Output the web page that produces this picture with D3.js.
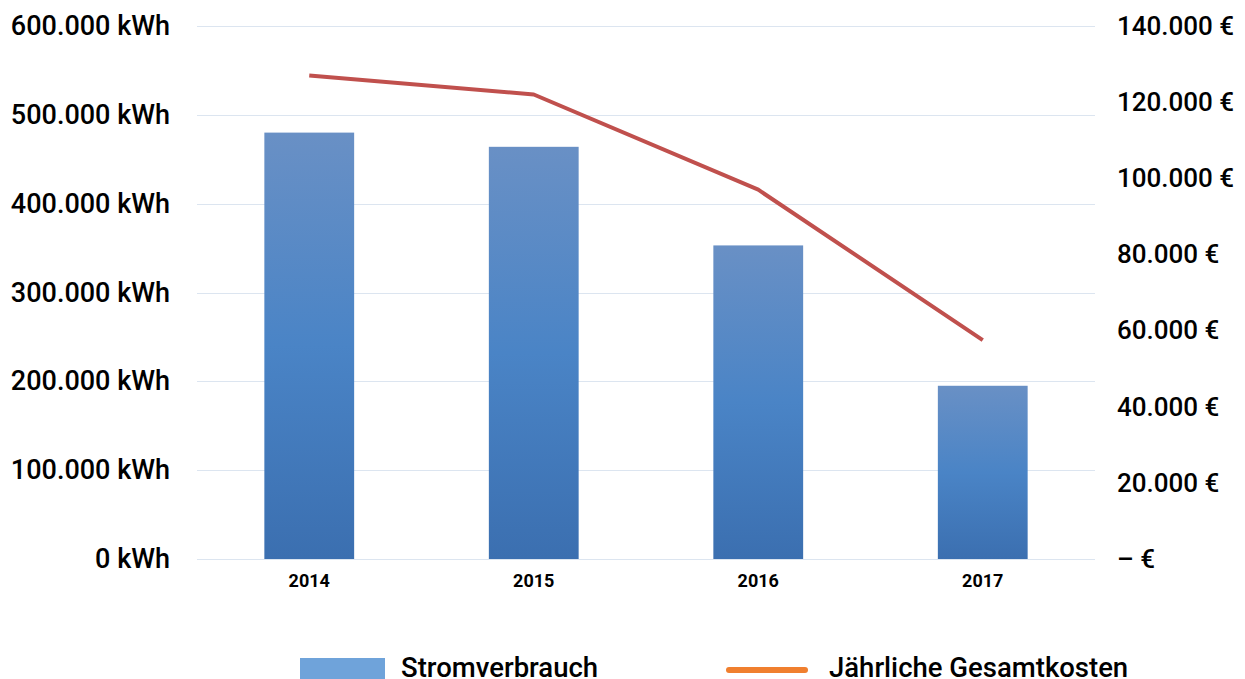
<!DOCTYPE html>
<html lang="de">
<head>
    <meta charset="UTF-8">
    <title>Stromverbrauch</title>
    <script src="https://cdnjs.cloudflare.com/ajax/libs/d3/7.8.5/d3.min.js"></script>
    <style>
        body { margin: 0; background: #fff; }
        svg { display: block; font-family: Roboto, sans-serif; }
    </style>
</head>
<body>
    <div id="wrapper"></div>
    <script>
        // Daten
        const years = ['2014', '2015', '2016', '2017']
        const consumption = [480000, 464000, 353000, 195000]   // kWh
        const totalCost = [127000, 122000, 97000, 57500]        // €
        const leftTicks = [0, 100000, 200000, 300000, 400000, 500000, 600000]
        const rightTicks = [0, 20000, 40000, 60000, 80000, 100000, 120000, 140000]

        const width = 1245
        const height = 679
        const margin = { top: 26, right: 150, bottom: 120, left: 197 }
        const boundedWidth = width - margin.left - margin.right
        const boundedHeight = height - margin.top - margin.bottom

        const svg = d3.select('#wrapper').append('svg')
            .attr('width', width)
            .attr('height', height)

        const defs = svg.append('defs')
        const grad = defs.append('linearGradient')
            .attr('id', 'barGrad')
            .attr('x1', 0).attr('y1', 0).attr('x2', 0).attr('y2', 1)
        grad.append('stop').attr('offset', '0%').attr('stop-color', '#6990C5')
        grad.append('stop').attr('offset', '50%').attr('stop-color', '#4A84C6')
        grad.append('stop').attr('offset', '100%').attr('stop-color', '#3B6FB0')

        const bounds = svg.append('g')
            .attr('transform', `translate(${margin.left},${margin.top})`)

        const xScale = d3.scaleBand()
            .domain(years)
            .range([0, boundedWidth])
            .paddingInner(0.6)
            .paddingOuter(0.3)

        const yLeft = d3.scaleLinear().domain([0, 600000]).range([boundedHeight, 0])
        const yRight = d3.scaleLinear().domain([0, 140000]).range([boundedHeight, 0])

        const fmt = d3.formatLocale({ decimal: ',', thousands: '.', grouping: [3], currency: ['', ' €'] }).format(',.0f')

        // Gitternetz
        bounds.append('g')
            .selectAll('line')
            .data(leftTicks)
            .enter().append('line')
                .attr('x1', 0)
                .attr('x2', boundedWidth)
                .attr('y1', d => Math.round(yLeft(d)) + 0.5)
                .attr('y2', d => Math.round(yLeft(d)) + 0.5)
                .attr('stroke', '#DCE5F0')
                .attr('stroke-width', 1)

        // Balken
        bounds.append('g')
            .selectAll('rect')
            .data(consumption)
            .enter().append('rect')
                .attr('x', (d, i) => xScale(years[i]))
                .attr('y', d => yLeft(d))
                .attr('width', xScale.bandwidth())
                .attr('height', d => boundedHeight - yLeft(d))
                .attr('fill', 'url(#barGrad)')

        // Linie
        const lineGen = d3.line()
            .x((d, i) => xScale(years[i]) + xScale.bandwidth() / 2)
            .y(d => yRight(d))
        bounds.append('path')
            .datum(totalCost)
            .attr('d', lineGen)
            .attr('fill', 'none')
            .attr('stroke', '#C0504D')
            .attr('stroke-width', 4)
            .attr('stroke-linejoin', 'round')

        // Achsen
        const leftAxis = d3.axisLeft(yLeft)
            .tickValues(leftTicks)
            .tickSize(0)
            .tickPadding(27)
            .tickFormat(d => fmt(d) + ' kWh')
        bounds.append('g').call(leftAxis)
            .call(g => g.select('.domain').remove())
            .selectAll('text')
                .style('font-size', '27px')
                .style('font-weight', 500)
                .style('font-family', 'Roboto, sans-serif')
                .attr('fill', '#000')

        const rightAxis = d3.axisRight(yRight)
            .tickValues(rightTicks)
            .tickSize(0)
            .tickPadding(22)
            .tickFormat(d => d === 0 ? '\u2013 €' : fmt(d) + ' €')
        bounds.append('g')
            .attr('transform', `translate(${boundedWidth},0)`)
            .call(rightAxis)
            .call(g => g.select('.domain').remove())
            .selectAll('text')
                .style('font-size', '26px')
                .style('font-weight', 500)
                .style('font-family', 'Roboto, sans-serif')
                .attr('fill', '#000')

        const xAxis = d3.axisBottom(xScale).tickSize(0).tickPadding(15)
        bounds.append('g')
            .attr('transform', `translate(0,${boundedHeight})`)
            .call(xAxis)
            .call(g => g.select('.domain').remove())
            .selectAll('text')
                .style('font-size', '18px')
                .style('font-weight', 'bold')
                .style('font-family', 'Roboto, sans-serif')
                .attr('fill', '#000')

        // Legende
        const legend = svg.append('g')
            .style('font-size', '27.5px')
            .style('font-weight', 500)
        legend.append('rect')
            .attr('x', 300).attr('y', 658)
            .attr('width', 85).attr('height', 24)
            .attr('fill', '#6FA3DA')
        legend.append('text')
            .attr('x', 401).attr('y', 677)
            .text('Stromverbrauch')
        legend.append('line')
            .attr('x1', 729).attr('x2', 805)
            .attr('y1', 670).attr('y2', 670)
            .attr('stroke', '#F07F2E')
            .attr('stroke-width', 6)
            .attr('stroke-linecap', 'round')
        legend.append('text')
            .attr('x', 829).attr('y', 677)
            .text('Jährliche Gesamtkosten')
    </script>
</body>
</html>
